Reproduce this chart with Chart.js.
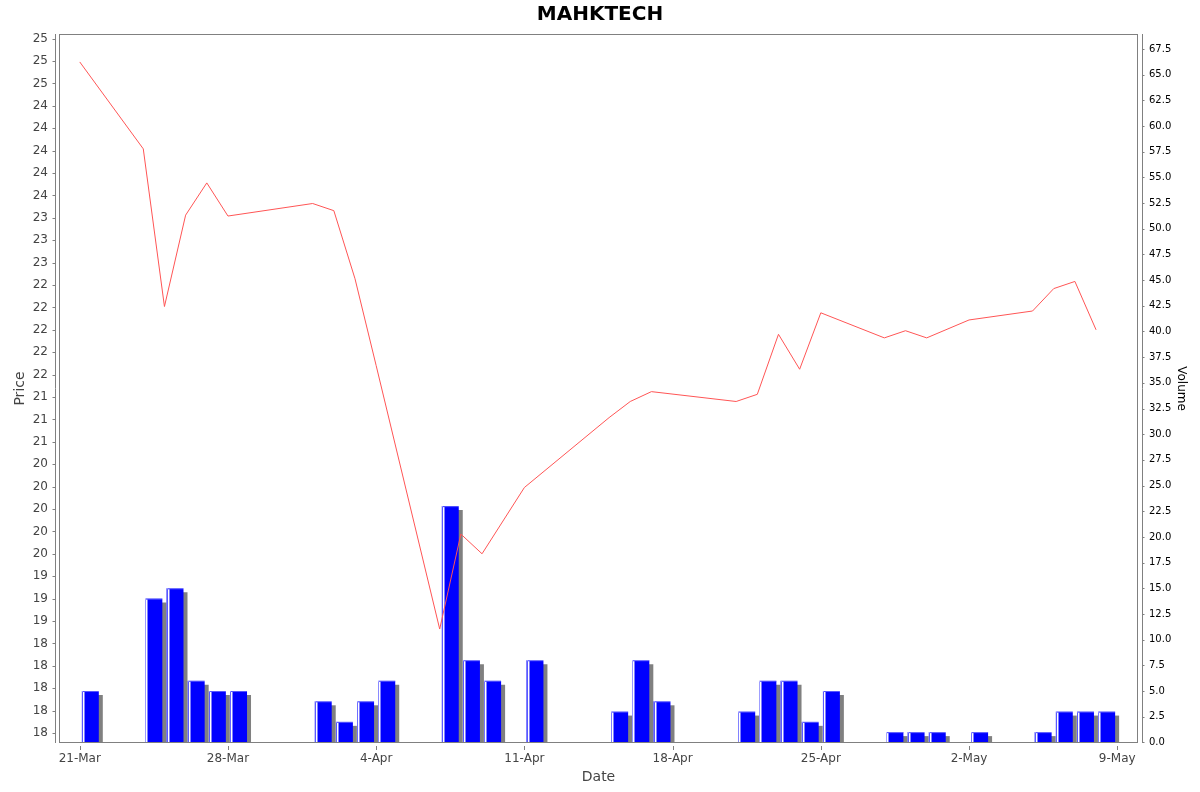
<!DOCTYPE html>
<html>
<head>
<meta charset="utf-8">
<title>MAHKTECH</title>
<script src="https://cdn.jsdelivr.net/npm/chart.js@4.4.1/dist/chart.umd.min.js"></script>
<style>
    html, body { margin: 0; padding: 0; background: #ffffff; }
    #wrap { width: 1200px; height: 792px; position: relative; }
</style>
</head>
<body>
<div id="wrap"><canvas id="priceChart"></canvas></div>
<script>
// Trading days
const dates = [
    '2025-03-21', '2025-03-24', '2025-03-25', '2025-03-26', '2025-03-27', '2025-03-28',
    '2025-04-01', '2025-04-02', '2025-04-03', '2025-04-04', '2025-04-07', '2025-04-08',
    '2025-04-09', '2025-04-11', '2025-04-15', '2025-04-16', '2025-04-17', '2025-04-21',
    '2025-04-22', '2025-04-23', '2025-04-24', '2025-04-25', '2025-04-28', '2025-04-29',
    '2025-04-30', '2025-05-02', '2025-05-05', '2025-05-06', '2025-05-07', '2025-05-08'
];

// Closing price
const prices = [
    24.99, 24.02, 22.26, 23.28, 23.64, 23.27,
    23.41, 23.33, 22.57, 21.60, 18.66, 19.72,
    19.50, 20.24, 21.02, 21.20, 21.31, 21.20,
    21.28, 21.95, 21.56, 22.19, 21.91, 21.99,
    21.91, 22.11, 22.21, 22.46, 22.54, 22.00
];

// Volume
const volumes = [
    5, 14, 15, 6, 5, 5,
    4, 2, 4, 6, 23, 8,
    6, 8, 3, 8, 4, 3,
    6, 6, 2, 5, 1, 1,
    1, 1, 1, 3, 3, 3
];

// Axis ticks
const xTickDates = ['2025-03-21', '2025-03-28', '2025-04-04', '2025-04-11',
                    '2025-04-18', '2025-04-25', '2025-05-02', '2025-05-09'];
const priceTickFirst = 17.5, priceTickLast = 25.25, priceTickStep = 0.25;
const volumeTickFirst = 0, volumeTickLast = 67.5, volumeTickStep = 2.5;
const months = ['Jan', 'Feb', 'Mar', 'Apr', 'May', 'Jun', 'Jul', 'Aug', 'Sep', 'Oct', 'Nov', 'Dec'];

const DAY = 86400000;
const startMs = Date.parse(dates[0]);
function dayOffset(iso) {
    return Math.round((Date.parse(iso) - startMs) / DAY);
}
function dayLabel(offset) {
    const d = new Date(startMs + offset * DAY);
    return d.getUTCDate() + '-' + months[d.getUTCMonth()];
}
function stepTicks(first, last, step) {
    const out = [];
    const n = Math.round((last - first) / step);
    for (let i = 0; i <= n; i++) out.push({ value: first + i * step });
    return out;
}
// labels are rounded to whole numbers, halves go to the even neighbour
function roundHalfEven(v) {
    const f = Math.floor(v);
    if (Math.abs(v - f - 0.5) < 1e-9) return f % 2 === 0 ? f : f + 1;
    return Math.round(v);
}

const linePoints = dates.map((d, i) => ({ x: dayOffset(d), y: prices[i] }));
// a bar covers its whole trading day
const barPoints = dates.map((d, i) => ({ x: dayOffset(d) + 0.5, y: volumes[i] }));

const FONT = 'DejaVu Sans';
const AXIS = '#808080';

// gray drop shadow + highlight on the volume bars
const barLook = {
    id: 'barLook',
    beforeDatasetDraw(chart, args) {
        if (args.meta.type !== 'bar') return;
        const ctx = chart.ctx;
        ctx.save();
        ctx.shadowColor = '#808080';
        ctx.shadowBlur = 0;
        ctx.shadowOffsetX = 4;
        ctx.shadowOffsetY = 4;
    },
    afterDatasetDraw(chart, args) {
        if (args.meta.type !== 'bar') return;
        const ctx = chart.ctx;
        ctx.restore();
        ctx.save();
        args.meta.data.forEach(function(bar) {
            const p = bar.getProps(['x', 'y', 'base', 'width'], true);
            const left = Math.round(p.x - p.width / 2);
            const h = p.base - p.y;
            ctx.fillStyle = 'rgba(255,255,255,0.35)';
            ctx.fillRect(left, p.y, p.width, 1);
            ctx.fillRect(left, p.y, 1, h);
            ctx.fillStyle = '#ffffff';
            ctx.fillRect(left + 1, p.y + 1, 1.5, h);
        });
        ctx.restore();
    }
};

// plot border, offset axis lines and tick marks
const axesFrame = {
    id: 'axesFrame',
    afterDraw(chart) {
        const ctx = chart.ctx;
        const a = chart.chartArea;
        const sx = chart.scales.x, sy = chart.scales.y, sv = chart.scales.y1;
        ctx.save();
        ctx.strokeStyle = AXIS;
        ctx.lineWidth = 1;
        ctx.strokeRect(Math.round(a.left) + 0.5, Math.round(a.top) + 0.5,
                       Math.round(a.right - a.left) - 1, Math.round(a.bottom - a.top) - 1);
        ctx.beginPath();
        const lx = Math.round(a.left) - 3.5;
        ctx.moveTo(lx, a.top);
        ctx.lineTo(lx, a.bottom);
        sy.ticks.forEach(function(t) {
            const y = Math.round(sy.getPixelForValue(t.value)) + 0.5;
            ctx.moveTo(lx - 3, y);
            ctx.lineTo(lx, y);
        });
        const rx = Math.round(a.right) + 4.5;
        ctx.moveTo(rx, a.top);
        ctx.lineTo(rx, a.bottom);
        sv.ticks.forEach(function(t) {
            const y = Math.round(sv.getPixelForValue(t.value)) + 0.5;
            ctx.moveTo(rx, y);
            ctx.lineTo(rx + 2, y);
        });
        sx.ticks.forEach(function(t) {
            const x = Math.round(sx.getPixelForValue(t.value)) + 0.5;
            ctx.moveTo(x, a.bottom + 3);
            ctx.lineTo(x, a.bottom + 7);
        });
        ctx.stroke();
        ctx.restore();
    }
};

const ctx = document.getElementById('priceChart').getContext('2d');
const priceChart = new Chart(ctx, {
    type: 'bar',
    data: {
        datasets: [
            {
                type: 'line',
                label: 'Price',
                data: linePoints,
                yAxisID: 'y',
                borderColor: '#ff5555',
                borderWidth: 1,
                pointRadius: 0,
                tension: 0,
                fill: false,
                order: 0
            },
            {
                type: 'bar',
                label: 'Volume',
                data: barPoints,
                yAxisID: 'y1',
                backgroundColor: '#0000ff',
                borderWidth: 0,
                barPercentage: 1.0,
                categoryPercentage: 0.8,
                order: 1
            }
        ]
    },
    options: {
        responsive: true,
        maintainAspectRatio: false,
        animation: false,
        layout: { padding: 0 },
        plugins: {
            legend: { display: false },
            tooltip: { enabled: false },
            title: {
                display: true,
                text: 'MAHKTECH',
                color: '#000000',
                font: { family: FONT, size: 20, weight: 'bold', lineHeight: 1.2 },
                padding: { top: 3, bottom: 7 }
            }
        },
        scales: {
            x: {
                type: 'linear',
                offset: false,
                min: -0.98,
                max: 49.98,
                grid: { display: false, drawTicks: false, tickLength: 0, offset: false },
                border: { display: false },
                afterBuildTicks: function(scale) {
                    scale.ticks = xTickDates.map(d => ({ value: dayOffset(d) }));
                },
                afterFit: function(scale) { scale.height = 49; },
                ticks: {
                    color: '#444444',
                    font: { family: FONT, size: 12 },
                    padding: 9,
                    maxRotation: 0,
                    autoSkip: false,
                    callback: function(value) { return dayLabel(value); }
                },
                title: {
                    display: true,
                    text: 'Date',
                    color: '#444444',
                    font: { family: FONT, size: 14 },
                    padding: { top: 0, bottom: 6 }
                }
            },
            y: {
                type: 'linear',
                position: 'left',
                min: 17.388,
                max: 25.302,
                grid: { display: false, drawTicks: false, tickLength: 0 },
                border: { display: false },
                afterBuildTicks: function(scale) {
                    scale.ticks = stepTicks(priceTickFirst, priceTickLast, priceTickStep);
                },
                afterFit: function(scale) { scale.width = 59; },
                ticks: {
                    color: '#444444',
                    font: { family: FONT, size: 12 },
                    padding: 11,
                    autoSkip: false,
                    callback: function(value) { return String(roundHalfEven(value)); }
                },
                title: {
                    display: true,
                    text: 'Price',
                    color: '#444444',
                    font: { family: FONT, size: 14 },
                    padding: { top: 12, bottom: 0 }
                }
            },
            y1: {
                type: 'linear',
                position: 'right',
                min: -0.06,
                max: 68.96,
                grid: { display: false, drawTicks: false, tickLength: 0 },
                border: { display: false },
                afterBuildTicks: function(scale) {
                    scale.ticks = stepTicks(volumeTickFirst, volumeTickLast, volumeTickStep);
                },
                afterFit: function(scale) { scale.width = 62; },
                ticks: {
                    color: '#000000',
                    font: { family: FONT, size: 10 },
                    padding: 11,
                    autoSkip: false,
                    callback: function(value) { return value.toFixed(1); }
                },
                title: {
                    display: true,
                    text: 'Volume',
                    color: '#000000',
                    font: { family: FONT, size: 12 },
                    padding: { top: 12, bottom: 0 }
                }
            }
        }
    },
    plugins: [barLook, axesFrame]
});
</script>
</body>
</html>
